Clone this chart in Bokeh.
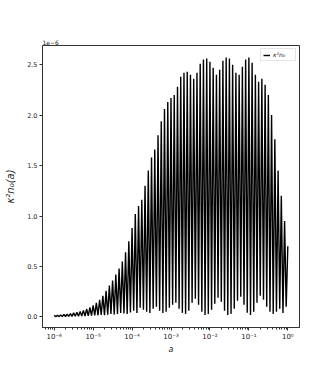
from bokeh.plotting import figure
from bokeh.models import (Range1d, FixedTicker, CustomJSTickFormatter, PrintfTickFormatter,
                          Legend, LegendItem, ColumnDataSource)
from bokeh.embed import file_html
from bokeh.resources import INLINE

# ---- data (y in units of 1e-6) ----
peak_log10_a = [-6.0, -5.917, -5.833, -5.75, -5.667, -5.583, -5.5, -5.417, -5.333, -5.25, -5.167, -5.083,
                -5.0, -4.917, -4.833, -4.75, -4.667, -4.583, -4.5, -4.417, -4.333, -4.25, -4.167, -4.083,
                -4.0, -3.917, -3.833, -3.75, -3.667, -3.583, -3.5, -3.417, -3.333, -3.25, -3.167, -3.083,
                -3.0, -2.917, -2.833, -2.75, -2.667, -2.583, -2.5, -2.417, -2.333, -2.25, -2.167, -2.083,
                -2.0, -1.917, -1.833, -1.75, -1.667, -1.583, -1.5, -1.417, -1.333, -1.25, -1.167, -1.083,
                -1.0, -0.917, -0.833, -0.75, -0.667, -0.583, -0.5, -0.417, -0.333, -0.25, -0.167, -0.083,
                0.0]
peak_k2n0 = [0.015, 0.017, 0.02, 0.024, 0.028, 0.033, 0.04, 0.047, 0.055, 0.065, 0.078, 0.095,
             0.115, 0.14, 0.17, 0.21, 0.26, 0.31, 0.36, 0.42, 0.48, 0.55, 0.64, 0.75,
             0.88, 1.02, 1.10, 1.16, 1.30, 1.45, 1.58, 1.66, 1.80, 1.94, 2.06, 2.13,
             2.17, 2.20, 2.28, 2.38, 2.42, 2.43, 2.40, 2.36, 2.42, 2.51, 2.55, 2.56,
             2.53, 2.47, 2.40, 2.45, 2.54, 2.57, 2.56, 2.50, 2.42, 2.40, 2.48, 2.55,
             2.57, 2.52, 2.40, 2.33, 2.36, 2.30, 2.20, 2.00, 1.76, 1.45, 1.20, 0.95,
             0.70]
trough_log10_a = [-5.958, -5.875, -5.792, -5.708, -5.625, -5.542, -5.458, -5.375, -5.292, -5.208, -5.125, -5.042,
                  -4.958, -4.875, -4.792, -4.708, -4.625, -4.542, -4.458, -4.375, -4.292, -4.208, -4.125, -4.042,
                  -3.958, -3.875, -3.792, -3.708, -3.625, -3.542, -3.458, -3.375, -3.292, -3.208, -3.125, -3.042,
                  -2.958, -2.875, -2.792, -2.708, -2.625, -2.542, -2.458, -2.375, -2.292, -2.208, -2.125, -2.042,
                  -1.958, -1.875, -1.792, -1.708, -1.625, -1.542, -1.458, -1.375, -1.292, -1.208, -1.125, -1.042,
                  -0.958, -0.875, -0.792, -0.708, -0.625, -0.542, -0.458, -0.375, -0.292, -0.208, -0.125, -0.042]
trough_k2n0 = [0.003, 0.003, 0.004, 0.004, 0.005, 0.005, 0.006, 0.007, 0.008, 0.009, 0.010, 0.012,
               0.014, 0.016, 0.020, 0.018, 0.022, 0.030, 0.025, 0.030, 0.040, 0.035, 0.030, 0.045,
               0.060, 0.040, 0.090, 0.070, 0.050, 0.040, 0.080, 0.100, 0.060, 0.040, 0.050, 0.090,
               0.120, 0.140, 0.080, 0.040, 0.030, 0.060, 0.140, 0.180, 0.120, 0.050, 0.020, 0.030,
               0.070, 0.130, 0.190, 0.150, 0.060, 0.020, 0.030, 0.080, 0.160, 0.200, 0.120, 0.040,
               0.020, 0.050, 0.140, 0.210, 0.170, 0.100, 0.050, 0.030, 0.050, 0.080, 0.040, 0.100]

x_tick_exponents = [-6, -5, -4, -3, -2, -1, 0]
y_ticks = [0.0, 0.5, 1.0, 1.5, 2.0, 2.5]
series_label = "κ²n₀"

# ---- build the zig-zag line from the peak/trough lists ----
log_a, vals = [], []
for i in range(len(peak_log10_a)):
    log_a.append(peak_log10_a[i]); vals.append(peak_k2n0[i])
    if i < len(trough_log10_a):
        log_a.append(trough_log10_a[i]); vals.append(trough_k2n0[i])
a_vals = [10 ** v for v in log_a]
src = ColumnDataSource(dict(a=a_vals, k=vals))

FONT = "DejaVu Sans"
TXT = "#222222"

p = figure(width=325, height=360, output_backend="svg", toolbar_location=None,
           x_axis_type="log",
           x_range=Range1d(10 ** -6.3, 10 ** 0.3), y_range=Range1d(-0.105, 2.69),
           min_border_left=42, min_border_right=26, min_border_top=45, min_border_bottom=33)

r = p.line("a", "k", source=src, line_color="black", line_width=1.4)

p.xgrid.visible = False
p.ygrid.visible = False
p.outline_line_color = "#333333"
p.outline_line_width = 1
p.background_fill_color = "white"
p.border_fill_color = "white"

# x axis
p.xaxis.ticker = FixedTicker(ticks=[10.0 ** e for e in x_tick_exponents],
                             minor_ticks=[m * 10.0 ** e for e in range(-7, 1) for m in range(2, 10)])
p.xaxis.formatter = CustomJSTickFormatter(code="""
const e = Math.round(Math.log10(tick));
const sup = {'-':'\u207b','0':'\u2070','1':'\u00b9','2':'\u00b2','3':'\u00b3','4':'\u2074','5':'\u2075','6':'\u2076','7':'\u2077','8':'\u2078','9':'\u2079'};
return '10' + String(e).split('').map(c => sup[c]).join('');
""")
p.xaxis.axis_label = "a"
p.xaxis.axis_label_text_font_style = "italic"
p.xaxis.axis_label_text_font_size = "8px"
p.xaxis.axis_label_standoff = 1
p.xaxis.major_label_text_font_size = "7px"

# y axis
p.yaxis.ticker = FixedTicker(ticks=y_ticks, minor_ticks=[])
p.yaxis.formatter = PrintfTickFormatter(format="%.1f")
p.yaxis.axis_label = "κ²n₀(a)"
p.yaxis.axis_label_text_font_style = "italic"
p.yaxis.axis_label_text_font_size = "10px"
p.yaxis.axis_label_standoff = 8
p.yaxis.major_label_text_font_size = "6.5px"

for ax in (p.xaxis, p.yaxis):
    ax.axis_line_color = "#333333"
    ax.major_tick_line_color = "#333333"
    ax.minor_tick_line_color = "#333333"
    ax.major_tick_out = 3
    ax.major_tick_in = 0
    ax.minor_tick_out = 2
    ax.minor_tick_in = 0
    ax.major_label_text_font = FONT
    ax.major_label_text_color = TXT
    ax.major_label_standoff = 2
    ax.axis_label_text_font = FONT
    ax.axis_label_text_color = TXT

# offset text
p.title.text = "1e\u22126"
p.title.text_font_size = "6px"
p.title.text_font = FONT
p.title.text_font_style = "normal"
p.title.text_color = TXT
p.title.align = "left"
p.title.standoff = 1

# legend
legend = Legend(items=[LegendItem(label=series_label, renderers=[r])], location="top_right")
legend.label_text_font_size = "6px"
legend.label_text_font = FONT
legend.label_text_font_style = "italic"
legend.label_text_color = TXT
legend.glyph_width = 7
legend.glyph_height = 6
legend.label_standoff = 3
legend.label_height = 6
legend.padding = 2
legend.margin = 3
legend.spacing = 0
legend.border_line_color = "#cccccc"
legend.border_line_width = 1
legend.background_fill_alpha = 0.8
p.add_layout(legend)

open("out.html", "w").write(file_html(p, INLINE))
